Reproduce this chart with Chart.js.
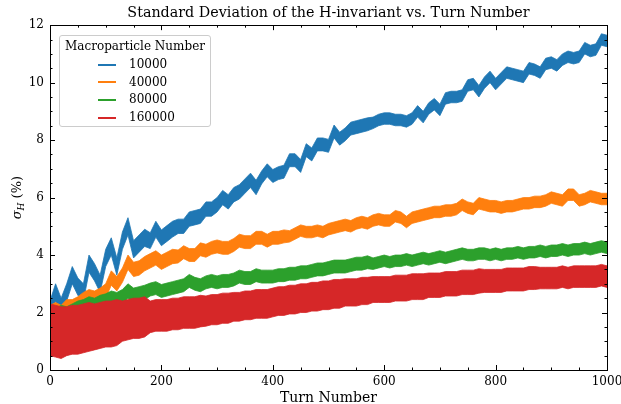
<!DOCTYPE html>
<html>
<head>
<meta charset="utf-8">
<script src="https://cdn.jsdelivr.net/npm/chart.js@4.4.0/dist/chart.umd.min.js"></script>
<style>
    html, body { margin: 0; padding: 0; background: #fff; }
    #wrap { position: relative; width: 621px; height: 404px; }
    #legend {
        position: absolute; left: 59px; top: 35px; width: 152px; height: 92px;
        box-sizing: border-box; border: 1px solid #cccccc; border-radius: 3px;
        background: rgba(255,255,255,0.85);
        font-family: 'DejaVu Serif', serif; font-size: 12px; color: #000;
    }
    #legend .ttl { position: absolute; left: 0; right: 0; top: 3px; text-align: center; white-space: nowrap; }
    #legend .row { position: absolute; left: 38px; height: 16px; line-height: 16px; white-space: nowrap; }
    #legend .row i { display: inline-block; width: 18px; height: 2px; vertical-align: middle; margin-right: 13px; }
</style>
</head>
<body>
<div id="wrap">
    <canvas id="chart" width="621" height="404"></canvas>
    <div id="legend"></div>
</div>
<script>
// turn grid (every 10 turns)
const turns = Array.from({ length: 101 }, (_, i) => i * 10);

const seriesNames = ['10000', '40000', '80000', '160000'];
const seriesColors = ['#1f77b4', '#ff7f0e', '#2ca02c', '#d62728'];

// centre of each noisy band (sigma_H in %)
const mid10000 = [
    2.1, 2.7, 2.2, 2.7, 3.3, 2.9, 2.7, 3.7, 3.4, 3.0,
    3.9, 4.3, 3.6, 4.5, 5.0, 4.2, 4.4, 4.6, 4.5, 4.9,
    4.6, 4.75, 4.9, 5.0, 5.0, 5.25, 5.3, 5.35, 5.6, 5.6,
    5.75, 6.0, 5.85, 6.1, 6.2, 6.4, 6.6, 6.35, 6.7, 6.95,
    6.75, 6.85, 6.9, 7.3, 7.3, 7.1, 7.65, 7.5, 7.85, 7.85,
    7.8, 8.3, 8.05, 8.2, 8.4, 8.45, 8.5, 8.55, 8.6, 8.7,
    8.75, 8.75, 8.7, 8.7, 8.65, 8.75, 9.0, 8.8, 9.1, 9.25,
    9.05, 9.45, 9.5, 9.5, 9.55, 9.9, 9.95, 9.7, 10.0, 10.2,
    9.95, 10.15, 10.35, 10.3, 10.25, 10.2, 10.5, 10.45, 10.35, 10.65,
    10.7, 10.6, 10.8, 10.9, 10.85, 10.9, 11.2, 11.1, 11.15, 11.5, 11.45
];
const mid40000 = [
    2.0, 2.1, 2.0, 2.2, 2.2, 2.3, 2.45, 2.55, 2.5, 2.6,
    2.75, 3.2, 3.0, 3.3, 3.75, 3.5, 3.55, 3.7, 3.8, 3.9,
    3.75, 3.85, 3.95, 3.95, 4.1, 4.0, 4.0, 4.2, 4.15, 4.25,
    4.3, 4.25, 4.25, 4.35, 4.5, 4.45, 4.45, 4.6, 4.6, 4.5,
    4.6, 4.6, 4.65, 4.65, 4.75, 4.85, 4.8, 4.8, 4.85, 4.8,
    4.9, 4.95, 5.0, 5.05, 5.0, 5.1, 5.15, 5.1, 5.2, 5.25,
    5.2, 5.2, 5.35, 5.3, 5.15, 5.3, 5.35, 5.4, 5.45, 5.5,
    5.5, 5.55, 5.55, 5.6, 5.75, 5.65, 5.6, 5.8, 5.75, 5.7,
    5.7, 5.65, 5.7, 5.7, 5.75, 5.8, 5.8, 5.85, 5.85, 5.9,
    6.0, 5.95, 5.9, 6.1, 6.1, 5.9, 5.95, 6.05, 6.0, 5.95, 5.95
];
const mid80000 = [
    1.5, 1.7, 1.8, 1.9, 2.0, 2.1, 2.15, 2.25, 2.25, 2.35,
    2.4, 2.5, 2.45, 2.55, 2.75, 2.6, 2.65, 2.7, 2.8, 2.85,
    2.75, 2.8, 2.85, 2.9, 2.95, 3.1, 3.0, 2.95, 3.05, 3.1,
    3.05, 3.1, 3.1, 3.15, 3.25, 3.2, 3.2, 3.3, 3.25, 3.25,
    3.25, 3.3, 3.3, 3.35, 3.35, 3.4, 3.4, 3.45, 3.5, 3.5,
    3.55, 3.6, 3.6, 3.6, 3.65, 3.7, 3.7, 3.75, 3.7, 3.75,
    3.8, 3.75, 3.8, 3.8, 3.85, 3.8, 3.85, 3.9, 3.85, 3.9,
    3.95, 3.9, 3.95, 4.0, 4.05, 4.0, 4.0, 4.05, 4.05, 4.0,
    4.05, 4.0, 4.05, 4.05, 4.1, 4.05, 4.1, 4.1, 4.15, 4.1,
    4.15, 4.15, 4.2, 4.15, 4.2, 4.2, 4.25, 4.2, 4.25, 4.3, 4.25
];
const mid160000 = [
    1.4, 1.35, 1.3, 1.35, 1.4, 1.4, 1.45, 1.5, 1.5, 1.55,
    1.6, 1.6, 1.65, 1.7, 1.75, 1.8, 1.8, 1.85, 1.85, 1.9,
    1.9, 1.9, 1.95, 1.95, 2.0, 2.0, 2.0, 2.05, 2.05, 2.1,
    2.1, 2.15, 2.15, 2.2, 2.2, 2.25, 2.25, 2.3, 2.3, 2.3,
    2.35, 2.4, 2.4, 2.45, 2.45, 2.5, 2.5, 2.55, 2.55, 2.6,
    2.6, 2.65, 2.65, 2.7, 2.7, 2.7, 2.75, 2.75, 2.8, 2.8,
    2.8, 2.8, 2.85, 2.85, 2.85, 2.9, 2.9, 2.9, 2.95, 2.95,
    2.95, 3.0, 3.0, 3.0, 3.05, 3.05, 3.05, 3.1, 3.1, 3.1,
    3.1, 3.1, 3.15, 3.15, 3.15, 3.15, 3.2, 3.2, 3.2, 3.2,
    3.2, 3.2, 3.25, 3.2, 3.25, 3.25, 3.25, 3.25, 3.25, 3.3, 3.25
];

// full height of the noise band, every 50 turns
const spread10000 = [0.6, 0.6, 0.6, 0.6, 0.55, 0.5, 0.5, 0.5, 0.45, 0.45, 0.45, 0.45, 0.4, 0.4, 0.4, 0.4, 0.4, 0.4, 0.4, 0.4, 0.4];
const spread40000 = [0.5, 0.5, 0.5, 0.5, 0.5, 0.45, 0.45, 0.45, 0.45, 0.4, 0.4, 0.4, 0.4, 0.4, 0.4, 0.4, 0.4, 0.4, 0.4, 0.4, 0.4];
const spread80000 = [0.9, 0.6, 0.5, 0.5, 0.45, 0.45, 0.45, 0.45, 0.45, 0.45, 0.45, 0.45, 0.4, 0.4, 0.4, 0.4, 0.4, 0.4, 0.4, 0.4, 0.4];
const spread160000 = [1.8, 1.7, 1.6, 1.4, 1.1, 1.1, 1.05, 1.0, 1.0, 1.0, 1.0, 0.95, 0.9, 0.9, 0.85, 0.85, 0.8, 0.8, 0.75, 0.75, 0.75];

const mids = [mid10000, mid40000, mid80000, mid160000];
const spreads = [spread10000, spread40000, spread80000, spread160000];

const FONT = "'DejaVu Serif', serif";

// each series = lower edge + upper edge filled down to it
const datasets = [];
mids.forEach((mid, s) => {
    const half = i => spreads[s][Math.round(turns[i] / 50)] / 2;
    const common = {
        borderColor: seriesColors[s], backgroundColor: seriesColors[s],
        borderWidth: 0.8, pointRadius: 0, tension: 0, order: 4 - s
    };
    datasets.push(Object.assign({
        label: seriesNames[s] + ' lo', fill: false,
        data: mid.map((v, i) => ({ x: turns[i], y: v - half(i) }))
    }, common));
    datasets.push(Object.assign({
        label: seriesNames[s], fill: '-1',
        data: mid.map((v, i) => ({ x: turns[i], y: v + half(i) }))
    }, common));
});

// frame, inward ticks on all four sides, and the y label
const frameTicks = {
    id: 'frameTicks',
    afterDraw(chart) {
        const { ctx, chartArea: a, scales: { x, y } } = chart;
        ctx.save();
        ctx.strokeStyle = '#000';
        ctx.lineWidth = 1;
        ctx.beginPath();
        for (let v = x.min; v <= x.max; v += 50) {
            const px = Math.round(x.getPixelForValue(v)) + 0.5;
            const len = v % 200 === 0 ? 5 : 2.5;
            ctx.moveTo(px, a.bottom); ctx.lineTo(px, a.bottom - len);
            ctx.moveTo(px, a.top); ctx.lineTo(px, a.top + len);
        }
        for (let v = y.min; v <= y.max + 1e-9; v += 0.5) {
            const py = Math.round(y.getPixelForValue(v)) + 0.5;
            const len = Math.abs(v % 2) < 1e-9 ? 5 : 2.5;
            ctx.moveTo(a.left, py); ctx.lineTo(a.left + len, py);
            ctx.moveTo(a.right, py); ctx.lineTo(a.right - len, py);
        }
        ctx.stroke();
        ctx.strokeRect(Math.round(a.left) + 0.5, Math.round(a.top) + 0.5,
            Math.round(a.right - a.left), Math.round(a.bottom - a.top));

        // sigma_H (%)
        ctx.translate(17, (a.top + a.bottom) / 2);
        ctx.rotate(-Math.PI / 2);
        ctx.fillStyle = '#000';
        ctx.textBaseline = 'alphabetic';
        ctx.font = 'italic 13px ' + FONT;
        const w1 = ctx.measureText('σ').width;
        ctx.font = 'italic 9px ' + FONT;
        const w2 = ctx.measureText('H').width;
        ctx.font = '13px ' + FONT;
        const w3 = ctx.measureText(' (%)').width;
        let cx = -(w1 + w2 + w3) / 2;
        ctx.font = 'italic 13px ' + FONT;
        ctx.fillText('σ', cx, 4); cx += w1;
        ctx.font = 'italic 9px ' + FONT;
        ctx.fillText('H', cx, 7); cx += w2;
        ctx.font = '13px ' + FONT;
        ctx.fillText(' (%)', cx, 4);
        ctx.restore();
    }
};

new Chart(document.getElementById('chart'), {
    type: 'line',
    data: { datasets: datasets },
    options: {
        responsive: false,
        animation: false,
        layout: { padding: { left: 0, right: 14, top: 0, bottom: 0 } },
        plugins: {
            legend: { display: false },
            tooltip: { enabled: false },
            title: {
                display: true,
                fullSize: false,
                text: 'Standard Deviation of the H-invariant vs. Turn Number',
                color: '#000',
                font: { family: FONT, size: 14.3, weight: 'normal' },
                padding: { top: 5, bottom: 3 }
            }
        },
        scales: {
            x: {
                type: 'linear', min: 0, max: 1000,
                grid: { display: false, drawTicks: false },
                border: { display: false },
                ticks: {
                    stepSize: 200, color: '#000', padding: 5, maxRotation: 0,
                    font: { family: FONT, size: 12 },
                    callback: v => String(v)
                },
                title: { display: true, text: 'Turn Number', color: '#000', font: { family: FONT, size: 14 }, padding: { top: 0, bottom: -3 } },
                afterFit: s => { s.height = 34; s.paddingRight = 0; s.paddingLeft = 0; }
            },
            y: {
                min: 0, max: 12,
                grid: { display: false, drawTicks: false },
                border: { display: false },
                ticks: { stepSize: 2, color: '#000', padding: 6, font: { family: FONT, size: 12 } },
                afterFit: s => { s.width = 50; s.paddingTop = 0; s.paddingBottom = 0; }
            }
        }
    },
    plugins: [frameTicks]
});

// legend box inside the axes
const legend = document.getElementById('legend');
legend.innerHTML = '<div class="ttl">Macroparticle Number</div>' +
    seriesNames.map((n, i) =>
        `<div class="row" style="top:${20 + i * 17.7}px"><i style="background:${seriesColors[i]}"></i>${n}</div>`
    ).join('');
</script>
</body>
</html>
